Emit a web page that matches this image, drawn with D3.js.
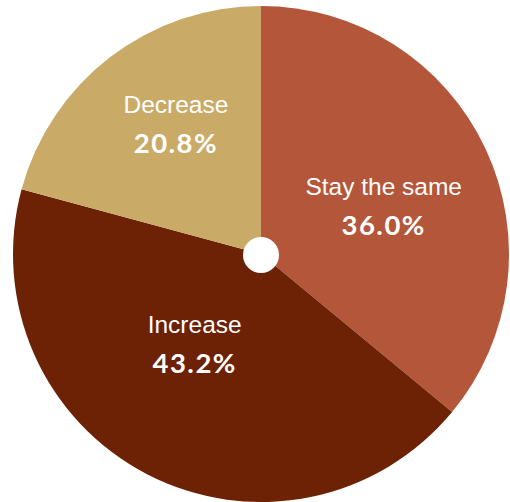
<!DOCTYPE html>
<html>
<head>
<meta charset="utf-8">
<script src="https://cdn.jsdelivr.net/npm/d3@7"></script>
<style>
  html, body { margin: 0; padding: 0; background: #fff; }
  svg { display: block; }
</style>
</head>
<body>
<svg id="chart" width="510" height="502"></svg>
<script>
const categories = ["Stay the same", "Increase", "Decrease"];
const values = [36.0, 43.2, 20.8];
const colors = ["#B4563A", "#6D2205", "#C9AB67"];
// label nudges relative to arc centroid (layout only)
const labelNudge = [[-4, 13], [-2, -33], [0, -18]];

const svg = d3.select("#chart");
const cx = 261, cy = 254, R = 248;

const pie = d3.pie().sort(null).value(d => d.value);
const data = categories.map((c, i) => ({ name: c, value: values[i], color: colors[i], nudge: labelNudge[i] }));
const arcs = pie(data);

const arc = d3.arc().innerRadius(0).outerRadius(R);
const labelArc = d3.arc().innerRadius(140).outerRadius(140);

const g = svg.append("g").attr("transform", `translate(${cx},${cy})`);

g.selectAll("path.slice")
  .data(arcs)
  .join("path")
  .attr("class", "slice")
  .attr("d", arc)
  .attr("fill", d => d.data.color);

g.append("circle")
  .attr("cx", 0).attr("cy", 1)
  .attr("r", 18)
  .attr("fill", "#fff");

const labels = g.selectAll("g.label")
  .data(arcs)
  .join("g")
  .attr("class", "label")
  .attr("transform", d => {
    const [x, y] = labelArc.centroid(d);
    return `translate(${x + d.data.nudge[0]},${y + d.data.nudge[1]})`;
  });

labels.append("text")
  .attr("text-anchor", "middle")
  .attr("y", -12)
  .attr("fill", "#fff")
  .style("font-family", "'Liberation Sans', Arial, sans-serif")
  .style("font-size", "24.5px")
  .text(d => d.data.name);

labels.append("text")
  .attr("text-anchor", "middle")
  .attr("y", 28)
  .attr("fill", "#fff")
  .style("font-family", "Lato, 'Open Sans', sans-serif")
  .style("font-weight", "700")
  .style("font-size", "27.5px")
  .style("letter-spacing", "1.5px")
  .text(d => d3.format(".1f")(d.data.value) + "%");
</script>
</body>
</html>
